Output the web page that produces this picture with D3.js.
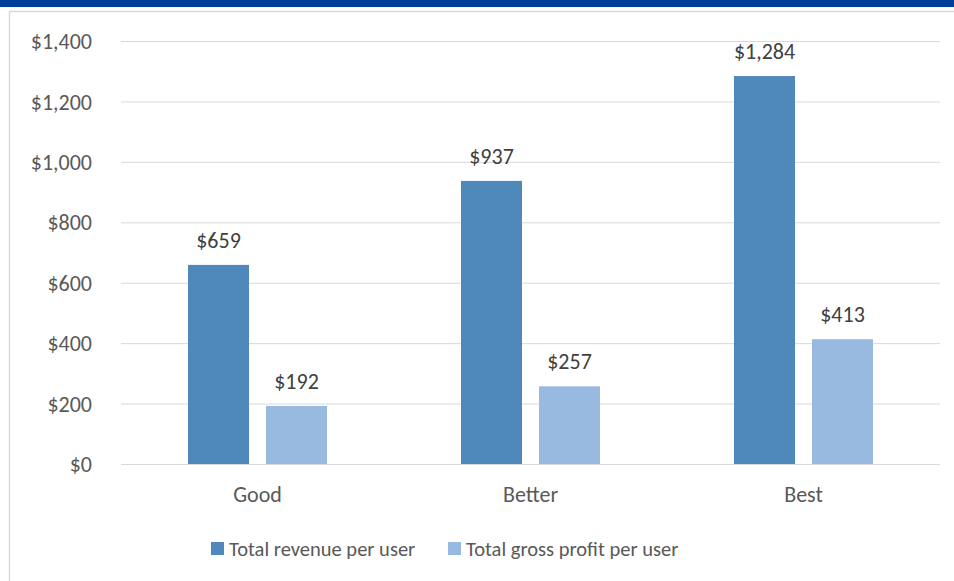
<!DOCTYPE html>
<html><head><meta charset="utf-8">
<script src="https://cdn.jsdelivr.net/npm/d3@7"></script>
<style>body{margin:0;background:#fff;}svg{display:block;}</style>
</head><body>
<svg id="c" width="954" height="581"></svg>
<script>
const categories = ["Good", "Better", "Best"];
const seriesNames = ["Total revenue per user", "Total gross profit per user"];
const revenue = [659, 937, 1284];
const grossProfit = [192, 257, 413];
const yTicks = [0, 200, 400, 600, 800, 1000, 1200, 1400];
const colors = ["#4f88bb", "#98b9e0"];

const FONT = "Calibri, Carlito, Lato, 'Open Sans', sans-serif";
const FS = "22px";
const svg = d3.select("#c").attr("font-family", FONT);
const W = 954, H = 581;
const m = {left: 121, right: 14};

// top banner
svg.append("rect").attr("x", 0).attr("y", 0).attr("width", W).attr("height", 7).attr("fill", "#003f99");
// frame
svg.append("rect").attr("x", 9.5).attr("y", 11.5).attr("width", W + 10).attr("height", H + 10)
  .attr("fill", "#fff").attr("stroke", "#d9d9d9").attr("stroke-width", 1.5);

const x0 = d3.scaleBand().domain(categories).range([m.left, W - m.right]).paddingInner(0).paddingOuter(0);
const y = d3.scaleLinear().domain([0, 1400]).range([464, 41]);
const bw = x0.bandwidth();
const barW = 61, gap = 17;
const groupOff = (bw - (2 * barW + gap)) / 2;

// gridlines + y labels
const yAxis = d3.axisLeft(y).tickValues(yTicks).tickSize(-(W - m.right - m.left)).tickFormat(d => "$" + d3.format(",")(d));
const ga = svg.append("g").attr("transform", `translate(${m.left},0)`).call(yAxis);
ga.attr("font-family", FONT);
ga.select(".domain").remove();
ga.selectAll(".tick line").attr("stroke", "#d9d9d9").attr("stroke-width", 1);
ga.selectAll(".tick text").attr("fill", "#595959").attr("font-size", FS).attr("x", -29).attr("dy", "0.35em");

const data = [revenue, grossProfit];
data.forEach((vals, s) => {
  const g = svg.append("g");
  g.selectAll("rect").data(categories).join("rect")
    .attr("x", (c) => x0(c) + groupOff + s * (barW + gap))
    .attr("y", (c, i) => y(vals[i]))
    .attr("width", barW)
    .attr("height", (c, i) => y(0) - y(vals[i]))
    .attr("fill", colors[s]);
  g.selectAll("text").data(categories).join("text")
    .attr("x", (c) => x0(c) + groupOff + s * (barW + gap) + barW / 2)
    .attr("y", (c, i) => y(vals[i]) - 17)
    .attr("text-anchor", "middle").attr("fill", "#404040").attr("font-size", FS)
    .text((c, i) => "$" + d3.format(",")(vals[i]));
});

// x axis labels
const xa = d3.axisBottom(x0).tickSize(0).tickPadding(0);
const gx = svg.append("g").attr("transform", `translate(0,${y(0)})`).call(xa);
gx.attr("font-family", FONT);
gx.select(".domain").remove();
gx.selectAll(".tick text").attr("fill", "#595959").attr("font-size", FS).attr("dy", 0).attr("y", 38);

// legend
const legendX = [211, 448];
seriesNames.forEach((n, i) => {
  svg.append("rect").attr("x", legendX[i]).attr("y", 542).attr("width", 13).attr("height", 13).attr("fill", colors[i]);
  svg.append("text").attr("x", legendX[i] + 18).attr("y", 556).attr("fill", "#595959").attr("font-size", "20.5px").text(n);
});
</script>
</body></html>
